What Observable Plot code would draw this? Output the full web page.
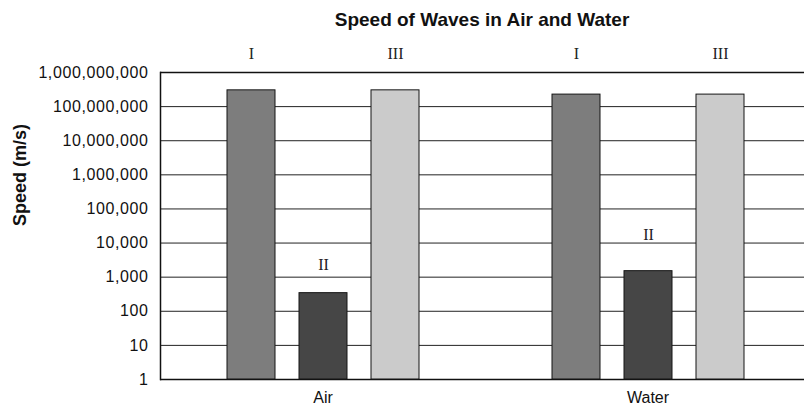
<!DOCTYPE html>
<html>
<head>
<meta charset="utf-8">
<script src="https://cdn.jsdelivr.net/npm/d3@7"></script>
<script src="https://cdn.jsdelivr.net/npm/@observablehq/plot@0.6"></script>
<style>
  html, body { margin: 0; padding: 0; background: #fff; overflow: hidden; }
  #title { font: bold 19px "Liberation Sans", Arial, sans-serif; height: 40px; line-height: 40px; padding-left: 160px; text-align: center;
           color: #111; box-sizing: border-box; width: 804px; }
  [aria-label="y-axis tick label"] text { letter-spacing: 0.6px; }
</style>
</head>
<body>
<div id="title">Speed of Waves in Air and Water</div>
<div id="chart"></div>
<script>
const groups = ["Air", "Water"];
const waves = ["I", "II", "III"];
const airSpeeds = [300000000, 340, 300000000];
const waterSpeeds = [225000000, 1500, 225000000];
const yTicks = [1, 10, 100, 1000, 10000, 100000, 1000000, 10000000, 100000000, 1000000000];
const waveFills = ["#7d7d7d", "#464646", "#cbcbcb"];

const data = [
  ...waves.map((w, i) => ({group: "Air", wave: w, speed: airSpeeds[i]})),
  ...waves.map((w, i) => ({group: "Water", wave: w, speed: waterSpeeds[i]}))
];

const serif = "'Liberation Serif', 'Times New Roman', serif";

const chart = Plot.plot({
  width: 804,
  height: 367,
  marginTop: 32,
  marginBottom: 28,
  marginLeft: 160,
  marginRight: -6,
  style: {fontFamily: "'Liberation Sans', Arial, sans-serif", color: "#111", background: "#fff"},
  fx: {domain: groups, padding: 0, label: null},
  x: {domain: waves, paddingInner: 0.338, paddingOuter: 0.91, axis: null},
  y: {type: "log", domain: [1, 1000000000], label: null, axis: null},
  color: {domain: waves, range: waveFills},
  marks: [
    Plot.ruleY(yTicks.slice(1, -1), {stroke: "#222", strokeWidth: 1}),
    Plot.ruleY([yTicks[0], yTicks[yTicks.length - 1]], {stroke: "#111", strokeWidth: 1.6}),
    Plot.frame({anchor: "left", facet: "super", stroke: "#111", strokeWidth: 1.5}),
    Plot.barY(data, {fx: "group", x: "wave", y1: 1, y2: "speed", fill: "wave", stroke: "#151515", strokeWidth: 1}),
    Plot.text(data.filter(d => d.wave !== "II"), {fx: "group", x: "wave", text: "wave", frameAnchor: "top", lineAnchor: "middle", dy: -19, fontFamily: serif, fontSize: 16, fill: "#222"}),
    Plot.text(data.filter(d => d.wave === "II" && d.group === "Air"), {fx: "group", x: "wave", y: "speed", text: "wave", dy: -28, fontFamily: serif, fontSize: 16, fill: "#222"}),
    Plot.text(data.filter(d => d.wave === "II" && d.group === "Water"), {fx: "group", x: "wave", y: "speed", text: "wave", dy: -36, fontFamily: serif, fontSize: 16, fill: "#222"}),
    Plot.axisY(yTicks, {tickSize: 0, tickPadding: 12, tickFormat: d3.format(","), fontSize: 16, label: null}),
    Plot.axisFx({anchor: "bottom", tickSize: 0, tickPadding: 12, fontSize: 16, label: null}),
    Plot.text(["Speed (m/s)"], {facet: "super", frameAnchor: "left", dx: -140, rotate: -90, text: d => d, fontWeight: "bold", fontSize: 18, fill: "#111"})
  ]
});
document.getElementById("chart").appendChild(chart);
</script>
</body>
</html>
